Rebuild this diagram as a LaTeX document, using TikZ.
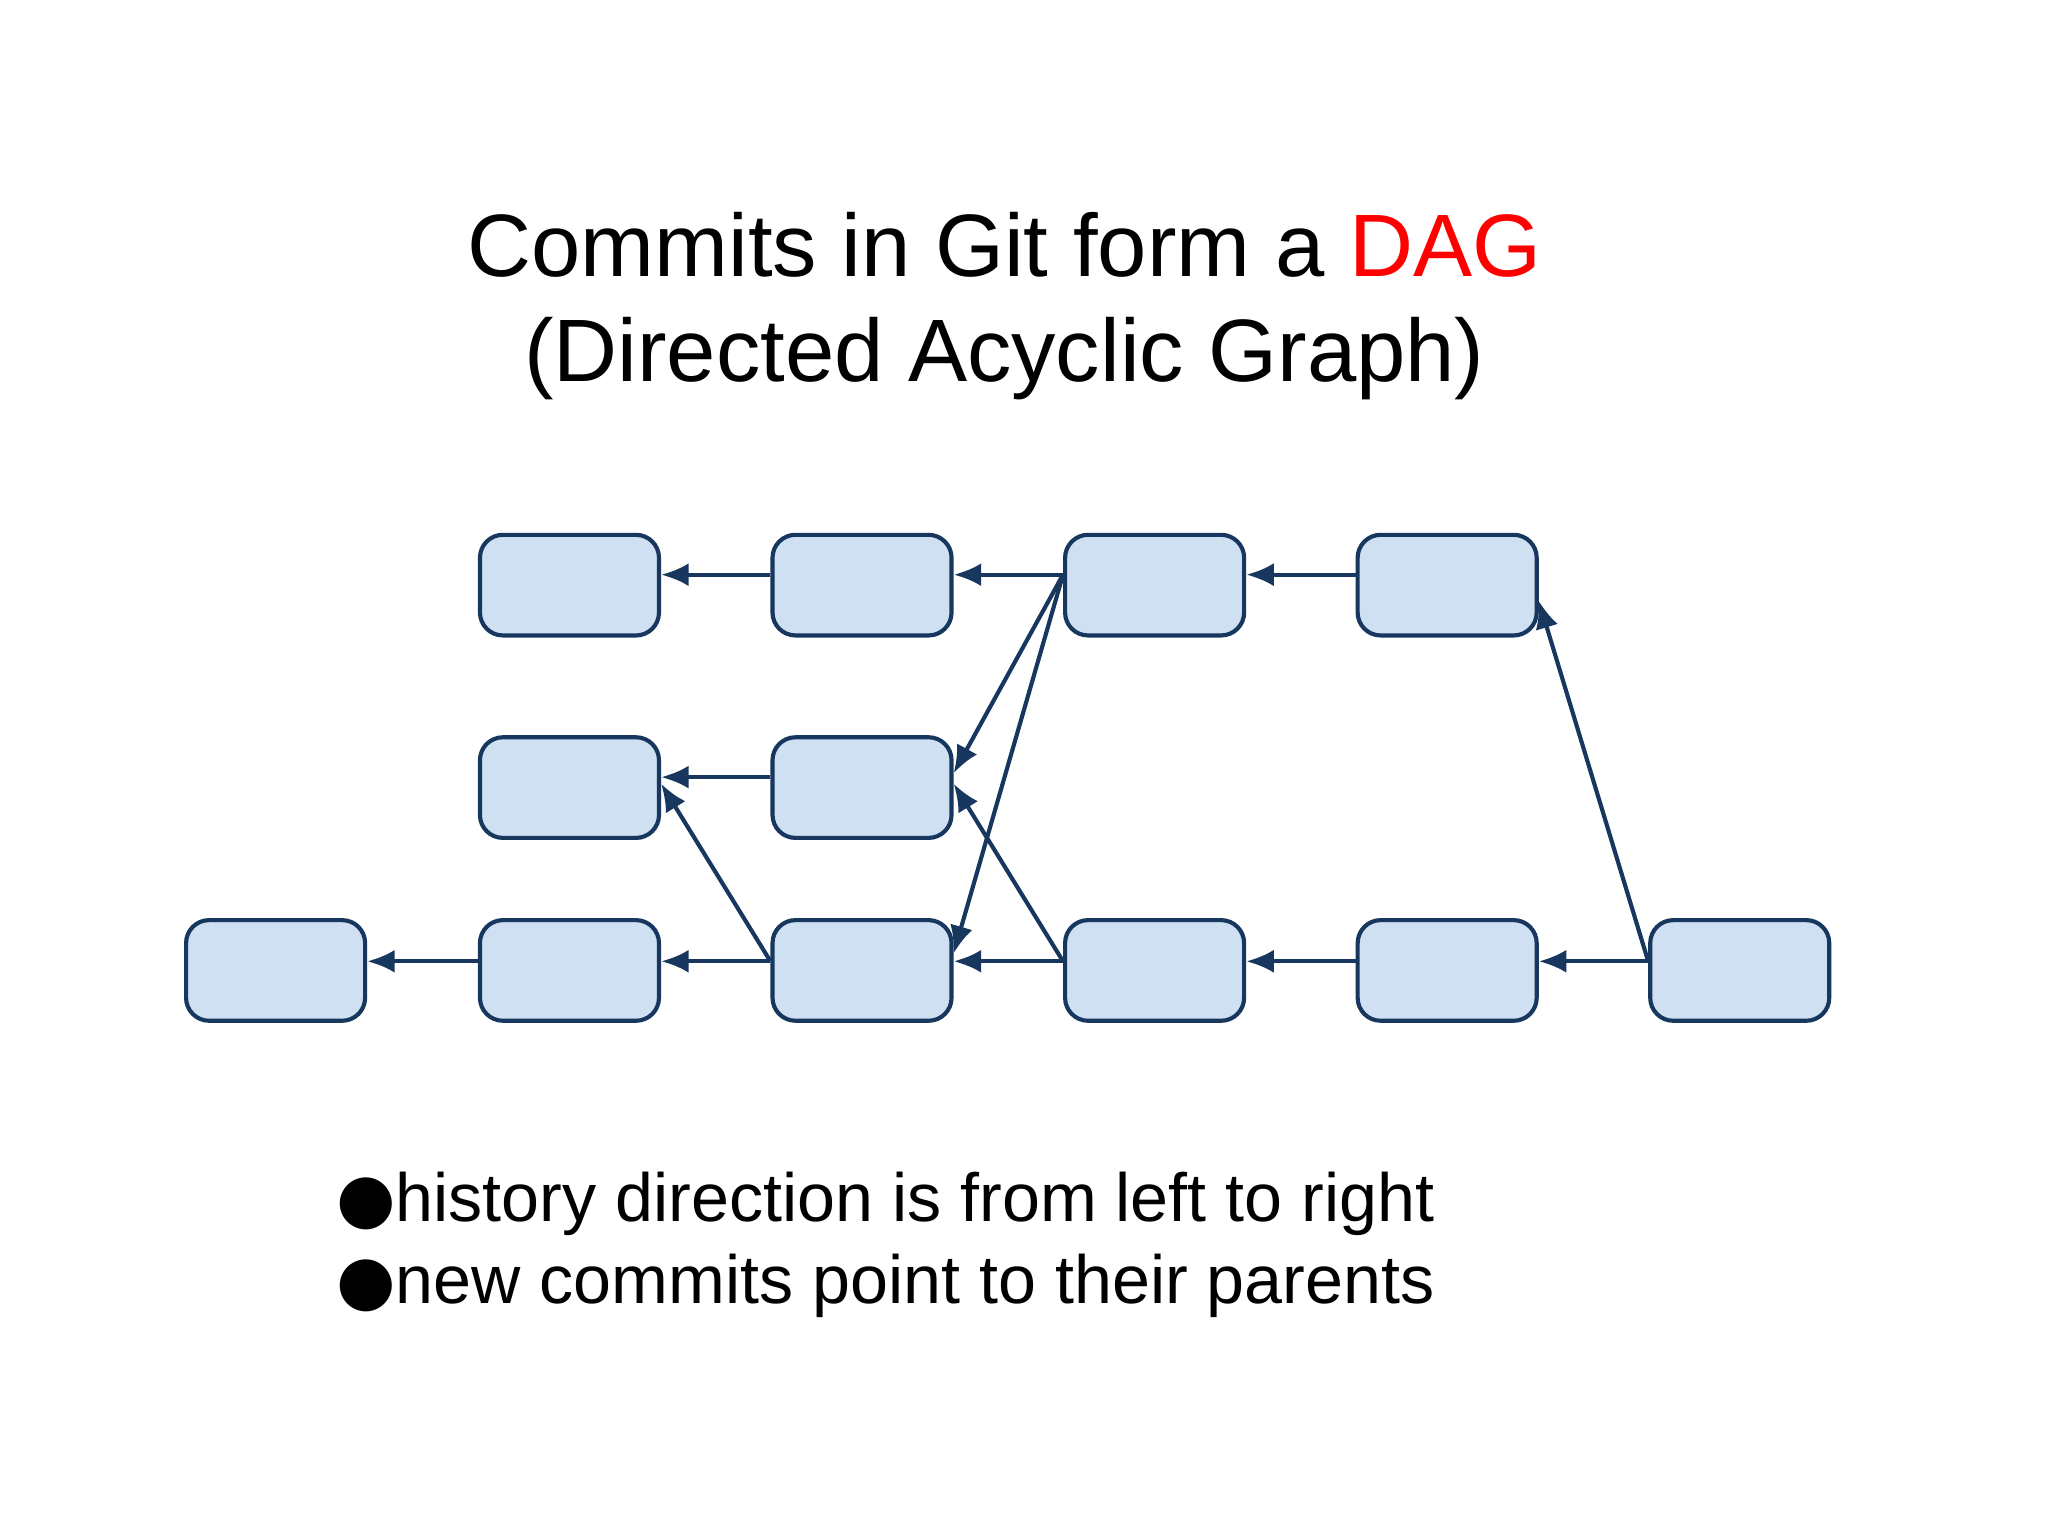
\documentclass[tikz,border=0pt]{standalone}
\usepackage{fontspec}
\setmainfont{Liberation Sans}
\newfontfamily\symfont{DejaVu Sans}
\usetikzlibrary{arrows.meta}
\definecolor{boxfill}{HTML}{CFE0F3}
\definecolor{boxline}{HTML}{17375E}
\begin{document}
\begin{tikzpicture}[x=0.01cm,y=-0.01cm,
  commit/.style={draw=boxline,fill=boxfill,line width=0.9pt,rounded corners=5pt,minimum width=1.37cm,minimum height=0.77cm,inner sep=0pt},
  link/.style={draw=boxline,line width=0.9pt,-{Latex[length=6pt,width=5pt]}}]
\useasboundingbox (0,0) rectangle (1568,1176);
\fill[white] (0,0) rectangle (1568,1176);
\node[anchor=base,font=\fontsize{19.3}{23}\selectfont] (t1) at (769,212) {Commits in Git form a \textcolor{red}{DAG}};
\node[anchor=base,font=\fontsize{19.3}{23}\selectfont] (t2) at (769,292) {(Directed Acyclic Graph)};
\foreach \n/\x in {1/436,2/660,3/884,4/1108}{\node[commit] (T\n) at (\x,448) {};}
\foreach \n/\x in {1/436,2/660}{\node[commit] (M\n) at (\x,603) {};}
\foreach \n/\x in {1/211,2/436,3/660,4/884,5/1108,6/1332}{\node[commit] (B\n) at (\x,743) {};}
\draw[link] ([yshift=0.08cm]T2.west) -- ([yshift=0.08cm]T1.east);
\draw[link] ([yshift=0.08cm]T3.west) -- ([yshift=0.08cm]T2.east);
\draw[link] ([yshift=0.08cm]T4.west) -- ([yshift=0.08cm]T3.east);
\draw[link] ([yshift=0.08cm]M2.west) -- ([yshift=0.08cm]M1.east);
\foreach \a/\b in {B2/B1,B3/B2,B4/B3,B5/B4,B6/B5}{\draw[link] ([yshift=0.07cm]\a.west) -- ([yshift=0.07cm]\b.east);}
\draw[link] ([yshift=0.08cm]T3.west) -- ([yshift=0.11cm]M2.east);
\draw[link] ([yshift=0.08cm]T3.west) -- ([yshift=0.13cm]B3.east);
\draw[link] ([yshift=0.07cm]B6.west) -- ([yshift=-0.12cm]T4.east);
\draw[link] ([yshift=0.07cm]B3.west) -- ([yshift=0.03cm]M1.east);
\draw[link] ([yshift=0.07cm]B4.west) -- ([yshift=0.03cm]M2.east);
\node[anchor=base west,font=\fontsize{14.85}{18}\selectfont] (l1) at (245,935) {{\symfont ●}history direction is from left to right};
\node[anchor=base west,font=\fontsize{14.85}{18}\selectfont] (l2) at (245,998) {{\symfont ●}new commits point to their parents};
\end{tikzpicture}
\end{document}
